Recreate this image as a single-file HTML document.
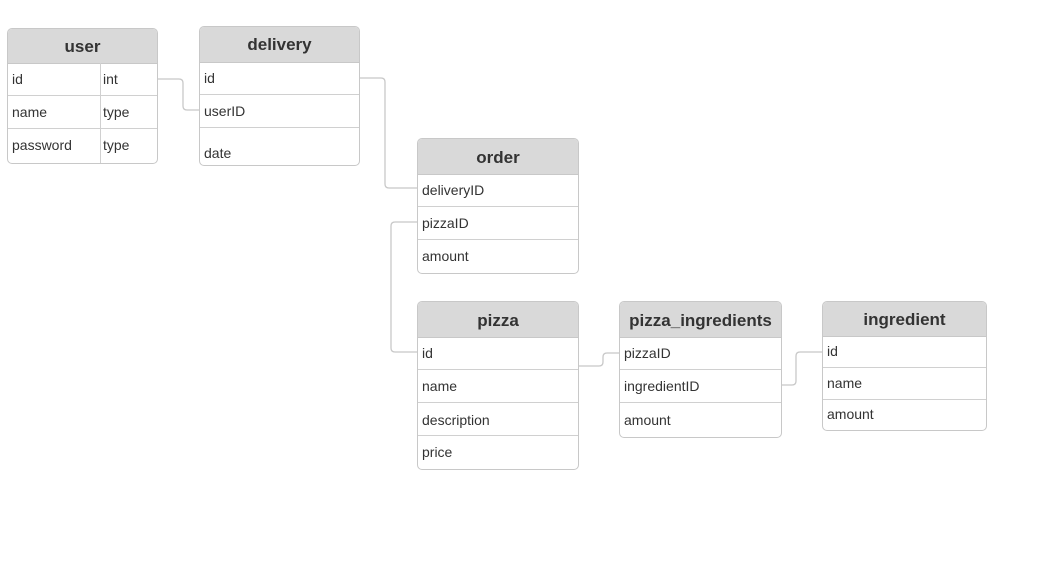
<!DOCTYPE html>
<html><head><meta charset="utf-8"><style>
html,body{margin:0;padding:0;background:#fff;width:1060px;height:573px;overflow:hidden;position:relative;font-family:"Liberation Sans",Arial,sans-serif;}
.t{position:absolute;border:1px solid #c8c8c8;border-radius:5px;background:#fff;overflow:hidden;box-sizing:border-box;}
.h{position:absolute;left:0;right:0;top:0;background:#d9d9d9;border-bottom:1px solid #c8c8c8;font-weight:bold;font-size:17px;color:#333;text-align:center;box-sizing:border-box;}
.r{position:absolute;left:0;right:0;border-bottom:1px solid #d0d0d0;font-size:14px;color:#333;padding-left:4px;box-sizing:border-box;}
.r:last-child{border-bottom:none}
svg{position:absolute;left:0;top:0}
</style></head><body>
<svg width="1060" height="573"><g fill="none" stroke="#c8c8c8" stroke-width="1.3">
<path d="M157 79 H179 Q183 79 183 83 V106 Q183 110 187 110 H199"/>
<path d="M359 78 H381 Q385 78 385 82 V184 Q385 188 389 188 H417"/>
<path d="M417 222 H395 Q391 222 391 226 V348 Q391 352 395 352 H417"/>
<path d="M578 366 H599 Q603 366 603 362 V357 Q603 353 607 353 H619"/>
<path d="M781 385 H792 Q796 385 796 381 V356 Q796 352 800 352 H822"/>
</g></svg>

<div class="t" style="left:7px;top:28px;width:151px;height:136px">
<div class="h" style="height:35px;line-height:36px">user</div>
<div style="position:absolute;left:92px;top:34px;bottom:0;border-left:1px solid #d0d0d0"></div>
<div class="r" style="top:34px;height:33px;line-height:32px">id<span style="position:absolute;left:95px">int</span></div>
<div class="r" style="top:67px;height:33px;line-height:33px">name<span style="position:absolute;left:95px">type</span></div>
<div class="r" style="top:100px;height:35px;line-height:33px;border-bottom:none">password<span style="position:absolute;left:95px">type</span></div>
</div>

<div class="t" style="left:199px;top:26px;width:161px;height:140px">
<div class="h" style="height:36px;line-height:36px">delivery</div>
<div class="r" style="top:35px;height:33px;line-height:32px">id</div>
<div class="r" style="top:68px;height:33px;line-height:32px">userID</div>
<div class="r" style="top:101px;height:38px;line-height:50px;border-bottom:none">date</div>
</div>

<div class="t" style="left:417px;top:138px;width:162px;height:136px">
<div class="h" style="height:36px;line-height:38px">order</div>
<div class="r" style="top:35px;height:33px;line-height:32px">deliveryID</div>
<div class="r" style="top:68px;height:33px;line-height:32px">pizzaID</div>
<div class="r" style="top:101px;height:34px;line-height:32px;border-bottom:none">amount</div>
</div>

<div class="t" style="left:417px;top:301px;width:162px;height:169px">
<div class="h" style="height:36px;line-height:38px">pizza</div>
<div class="r" style="top:35px;height:33px;line-height:32px">id</div>
<div class="r" style="top:68px;height:33px;line-height:32px">name</div>
<div class="r" style="top:101px;height:33px;line-height:34px">description</div>
<div class="r" style="top:134px;height:34px;line-height:32px;border-bottom:none">price</div>
</div>

<div class="t" style="left:619px;top:301px;width:163px;height:137px">
<div class="h" style="height:36px;line-height:38px">pizza_ingredients</div>
<div class="r" style="top:35px;height:33px;line-height:32px">pizzaID</div>
<div class="r" style="top:68px;height:33px;line-height:32px">ingredientID</div>
<div class="r" style="top:101px;height:35px;line-height:34px;border-bottom:none">amount</div>
</div>

<div class="t" style="left:822px;top:301px;width:165px;height:130px">
<div class="h" style="height:35px;line-height:36px">ingredient</div>
<div class="r" style="top:34px;height:32px;line-height:30px">id</div>
<div class="r" style="top:66px;height:32px;line-height:30px">name</div>
<div class="r" style="top:98px;height:31px;line-height:28px;border-bottom:none">amount</div>
</div>
</body></html>
